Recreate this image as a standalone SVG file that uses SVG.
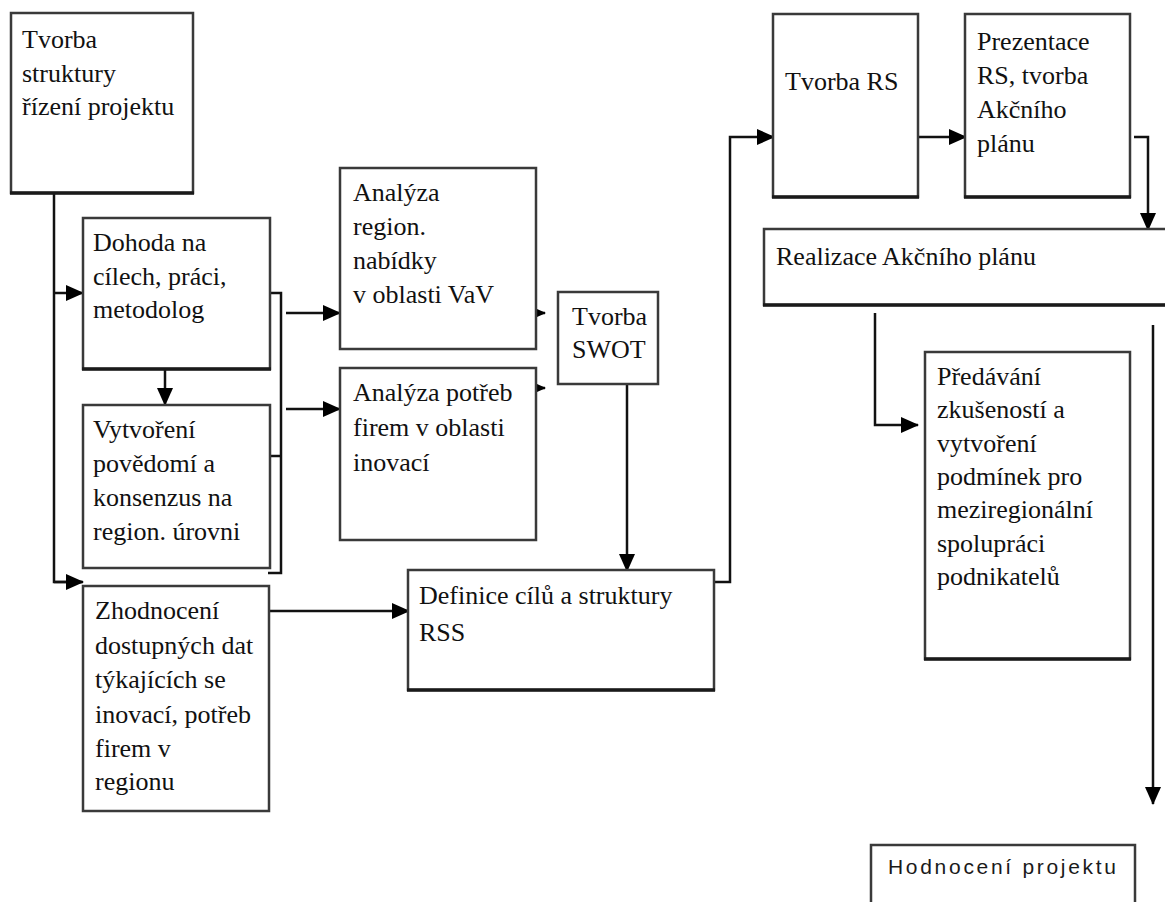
<svg xmlns="http://www.w3.org/2000/svg" width="1165" height="902" viewBox="0 0 1165 902">
<style>
.box{fill:#fff;stroke:#3a3a3a;stroke-width:2.5}
.b{stroke:#1a1a1a;stroke-width:3.5}
.t{font-family:"Liberation Serif","Times New Roman","DejaVu Serif",serif;font-size:26px;fill:#111}
.s{font-family:"Liberation Sans",Arial,sans-serif;font-size:21px;letter-spacing:2.7px;fill:#1a1a1a}
.c{fill:none;stroke:#111;stroke-width:2.5}
.a{marker-end:url(#ah)}
</style>
<defs>
<marker id="ah" markerUnits="userSpaceOnUse" markerWidth="18" markerHeight="16" refX="17" refY="8" orient="auto">
<path d="M0,0 L18,8 L0,16 z" fill="#000"/>
</marker>
</defs>
<rect width="1165" height="902" fill="#fff"/>
<g id="connectors">
<path class="c" d="M54,194 V582 H82"/>
<path class="c a" d="M54,582 H83"/>
<path class="c a" d="M54,293 H83"/>
<path class="c a" d="M165,369 V405"/>
<path class="c" d="M270,293 H281 V573 H268"/>
<path class="c" d="M270,456 H281"/>
<path class="c a" d="M286,313 H340"/>
<path class="c a" d="M286,409 H340"/>
<path class="c a" d="M516,313 H545"/>
<path class="c a" d="M517,388 H545"/>
<path class="c a" d="M627,384 V571"/>
<path class="c a" d="M269,611 H409"/>
<path class="c a" d="M714,582 H730 V137 H774"/>
<path class="c a" d="M918,137 H966"/>
<path class="c a" d="M1134,137 H1148 V230"/>
<path class="c a" d="M875,313 V425 H918"/>
<path class="c a" d="M1153,325 V804"/>
</g>
<g id="n1"><rect class="box" x="11" y="13" width="182" height="180"/><line class="b" x1="10" y1="193" x2="194" y2="193"/>
<text class="t"><tspan x="22" y="48">Tvorba</tspan><tspan x="22" y="82">struktury</tspan><tspan x="22" y="115">řízení projektu</tspan></text></g>
<g id="n2"><rect class="box" x="83" y="218" width="187" height="151"/><line class="b" x1="82" y1="369" x2="271" y2="369"/>
<text class="t"><tspan x="93" y="251">Dohoda na</tspan><tspan x="93" y="285">cílech, práci,</tspan><tspan x="93" y="318">metodolog</tspan></text></g>
<g id="n3"><rect class="box" x="83" y="405" width="187" height="163"/>
<text class="t"><tspan x="93" y="438">Vytvoření</tspan><tspan x="93" y="472">povědomí a</tspan><tspan x="93" y="506">konsenzus na</tspan><tspan x="93" y="540">region. úrovni</tspan></text></g>
<g id="n4"><rect class="box" x="83" y="586" width="186" height="225"/>
<text class="t"><tspan x="95" y="619">Zhodnocení</tspan><tspan x="95" y="654">dostupných dat</tspan><tspan x="95" y="688">týkajících se</tspan><tspan x="95" y="723">inovací, potřeb</tspan><tspan x="95" y="757">firem   v</tspan><tspan x="95" y="790">regionu</tspan></text></g>
<g id="n5"><rect class="box" x="340" y="168" width="196" height="181"/>
<text class="t"><tspan x="353" y="201">Analýza</tspan><tspan x="353" y="235">region.</tspan><tspan x="353" y="269">nabídky</tspan><tspan x="353" y="303">v oblasti VaV</tspan></text></g>
<g id="n6"><rect class="box" x="340" y="368" width="196" height="172"/>
<text class="t"><tspan x="353" y="401">Analýza potřeb</tspan><tspan x="353" y="436">firem v oblasti</tspan><tspan x="353" y="471">inovací</tspan></text></g>
<g id="n7"><rect class="box" x="558" y="292" width="100" height="92"/>
<text class="t"><tspan x="572" y="325">Tvorba</tspan><tspan x="572" y="358">SWOT</tspan></text></g>
<g id="n8"><rect class="box" x="408" y="570" width="306" height="120"/><line class="b" x1="407" y1="690" x2="715" y2="690"/>
<text class="t"><tspan x="419" y="604">Definice cílů a struktury</tspan><tspan x="419" y="641">RSS</tspan></text></g>
<g id="n9"><rect class="box" x="773" y="14" width="145" height="183"/><line class="b" x1="772" y1="197" x2="919" y2="197"/>
<text class="t" x="785" y="90">Tvorba RS</text></g>
<g id="n10"><rect class="box" x="965" y="14" width="165" height="183"/><line class="b" x1="964" y1="197" x2="1131" y2="197"/>
<text class="t"><tspan x="977" y="50">Prezentace</tspan><tspan x="977" y="84">RS, tvorba</tspan><tspan x="977" y="118">Akčního</tspan><tspan x="977" y="152">plánu</tspan></text></g>
<g id="n11"><rect class="box" x="764" y="229" width="420" height="76"/><line class="b" x1="763" y1="305" x2="1165" y2="305"/>
<text class="t" x="776" y="265">Realizace Akčního plánu</text></g>
<g id="n12"><rect class="box" x="925" y="352" width="205" height="307"/><line class="b" x1="924" y1="659" x2="1131" y2="659"/>
<text class="t"><tspan x="937" y="385">Předávání</tspan><tspan x="937" y="418">zkušeností a</tspan><tspan x="937" y="452">vytvoření</tspan><tspan x="937" y="485">podmínek pro</tspan><tspan x="937" y="518">meziregionální</tspan><tspan x="937" y="552">spolupráci</tspan><tspan x="937" y="585">podnikatelů</tspan></text></g>
<g id="n13"><rect class="box" x="871" y="845" width="264" height="70"/>
<text class="s" x="888" y="874">Hodnocení projektu</text></g>
</svg>
